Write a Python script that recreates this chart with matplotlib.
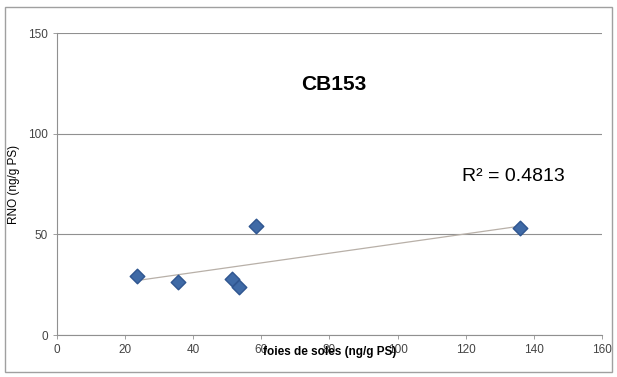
import numpy as np
import matplotlib
matplotlib.use("Agg")
import matplotlib.pyplot as plt
from matplotlib.patches import Rectangle

plt.rcParams['font.family'] = ['Liberation Sans', 'DejaVu Sans']

x_vals = [23.5, 35.5, 51.5, 53.5, 58.5, 136.0]
y_vals = [29.5, 26.5, 28.0, 24.0, 54.0, 53.0]
x_ticks = [0, 20, 40, 60, 80, 100, 120, 140, 160]
y_ticks = [0, 50, 100, 150]
title = "CB153"
r2_text = "R\u00b2 = 0.4813"
xlabel = "foies de soles (ng/g PS)"
ylabel = "RNO (ng/g PS)"

fig = plt.figure(figsize=(6.17, 3.77), dpi=100)
fig.patches.append(Rectangle((0.008, 0.012), 0.984, 0.97, transform=fig.transFigure,
                             fill=False, edgecolor='#a0a0a0', linewidth=1.0))
ax = fig.add_axes([0.092, 0.111, 0.884, 0.801])
ax.set_xlim(0, 160)
ax.set_ylim(0, 150)
ax.set_xticks(x_ticks)
ax.set_yticks(y_ticks)
ax.tick_params(labelsize=8.5, labelcolor='#444444', color='#909090', length=3, width=0.6)
for s in ['top', 'right']:
    ax.spines[s].set_visible(False)
for s in ['left', 'bottom']:
    ax.spines[s].set_color('#909090')
    ax.spines[s].set_linewidth(0.8)
ax.yaxis.grid(True, color='#909090', linewidth=0.8)
ax.set_axisbelow(True)

xa = np.array(x_vals); ya = np.array(y_vals)
m, b = np.polyfit(xa, ya, 1)
xl = np.array([xa.min(), xa.max()])
ax.plot(xl, m * xl + b, color='#b8b0a8', linewidth=0.9, zorder=2)
ax.scatter(x_vals, y_vals, marker='D', s=55, color='#3f6aa6', edgecolor='#2f5590', zorder=3)

ax.text(0.508, 0.83, title, transform=ax.transAxes, ha='center', va='center',
        fontsize=15, fontweight='bold')
ax.text(0.837, 0.525, r2_text, transform=ax.transAxes, ha='center', va='center',
        fontsize=14)
ax.set_xlabel(xlabel, fontsize=8.5, fontweight='bold', labelpad=-7)
ax.set_ylabel(ylabel, fontsize=8.5, labelpad=6)

fig.savefig("out.png", dpi=100)
